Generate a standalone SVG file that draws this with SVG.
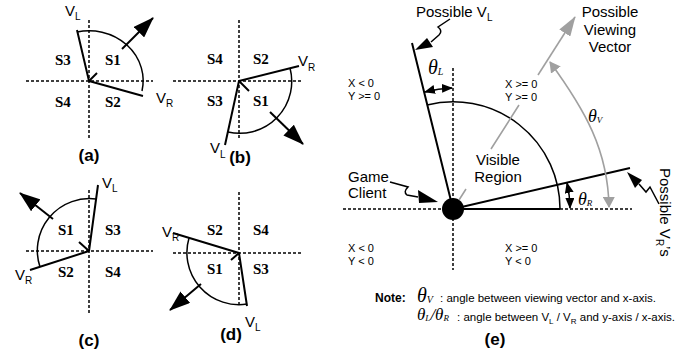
<svg xmlns="http://www.w3.org/2000/svg" width="699" height="356" viewBox="0 0 699 356">
<style>
.ax{stroke:#000;stroke-width:1.5;stroke-dasharray:3 2;fill:none}
.v{stroke:#000;stroke-width:2;fill:none}
.arc{stroke:#000;stroke-width:1.5;fill:none}
.g{stroke:#a0a0a0;stroke-width:1.6;fill:none}
.s{font-family:"Liberation Serif",serif;font-weight:bold;font-size:15px}
.lbl{font-family:"Liberation Sans",Arial,sans-serif;font-size:15px}
.sm{font-family:"Liberation Sans",Arial,sans-serif;font-size:11px}
.nt{font-family:"Liberation Sans",Arial,sans-serif;font-size:11.5px}
.cap{font-family:"Liberation Sans",Arial,sans-serif;font-weight:bold;font-size:17px;text-anchor:middle}
.th{font-family:"Liberation Serif",serif;font-style:italic}
</style>
<defs>
<marker id="ah" viewBox="0 0 21 15" refX="20" refY="7.5" markerWidth="21" markerHeight="15" markerUnits="userSpaceOnUse" orient="auto"><path d="M0,0 L21,7.5 L0,15 z" fill="#000"/></marker>
<marker id="sa" viewBox="0 0 11 9" refX="10" refY="4.5" markerWidth="11" markerHeight="9" markerUnits="userSpaceOnUse" orient="auto-start-reverse"><path d="M0,0 L11,4.5 L0,9 z" fill="#000"/></marker>
<marker id="gah" viewBox="0 0 20 13" refX="19" refY="6.5" markerWidth="20" markerHeight="13" markerUnits="userSpaceOnUse" orient="auto"><path d="M0,0 L20,6.5 L0,13 z" fill="#a0a0a0"/></marker>
<marker id="gsa" viewBox="0 0 11 12" refX="10" refY="6" markerWidth="11" markerHeight="12" markerUnits="userSpaceOnUse" orient="auto-start-reverse"><path d="M0,0 L11,6 L0,12 z" fill="#a0a0a0"/></marker>
</defs>

<g id="panel-a">
<path class="ax" d="M26,81 H153 M89,20 V140"/>
<path class="v" d="M89,81 L77,30 M89,81 L143,96"/>
<path class="arc" d="M77,32 A54,50 0 0,1 142,91"/>
<path class="v" d="M89,81 L97,73"/>
<path class="v" d="M122,49 L153,18" marker-end="url(#ah)"/>
<text class="s" x="55" y="65">S3</text><text class="s" x="105" y="65">S1</text>
<text class="s" x="55" y="107">S4</text><text class="s" x="105" y="107">S2</text>
<text class="lbl" x="65" y="16">V<tspan font-size="10" dy="4">L</tspan></text>
<text class="lbl" x="156" y="103">V<tspan font-size="10" dy="4">R</tspan></text>
<text class="cap" x="89" y="161">(a)</text>
</g>

<g id="panel-b">
<path class="ax" d="M173,81 H302 M239,20 V140"/>
<path class="v" d="M239,81 L299,66 M239,81 L225,145"/>
<path class="arc" d="M290,68 A52,52 0 0,1 228,132"/>
<path class="v" d="M239,81 L249,91"/>
<path class="v" d="M270,112 L303,144" marker-end="url(#ah)"/>
<text class="s" x="207" y="64">S4</text><text class="s" x="253" y="64">S2</text>
<text class="s" x="207" y="106">S3</text><text class="s" x="253" y="106">S1</text>
<text class="lbl" x="298" y="66">V<tspan font-size="10" dy="5">R</tspan></text>
<text class="lbl" x="210" y="153">V<tspan font-size="10" dy="5">L</tspan></text>
<text class="cap" x="240" y="163">(b)</text>
</g>

<g id="panel-c">
<path class="ax" d="M26,251 H153 M89,190 V313"/>
<path class="v" d="M89,251 L98,185 M89,251 L30,270"/>
<path class="arc" d="M96,199 A52,52 0 0,0 40,267"/>
<path class="v" d="M89,251 L79,242"/>
<path class="v" d="M53,219 L20,193" marker-end="url(#ah)"/>
<text class="s" x="58" y="235">S1</text><text class="s" x="105" y="235">S3</text>
<text class="s" x="58" y="277">S2</text><text class="s" x="105" y="277">S4</text>
<text class="lbl" x="102" y="188">V<tspan font-size="10" dy="4">L</tspan></text>
<text class="lbl" x="15" y="280">V<tspan font-size="10" dy="4">R</tspan></text>
<text class="cap" x="89" y="346">(c)</text>
</g>

<g id="panel-d">
<path class="ax" d="M173,253 H302 M239,192 V307"/>
<path class="v" d="M239,253 L173,233 M239,253 L247,306"/>
<path class="arc" d="M189,238 A52,52 0 0,0 247,304"/>
<path class="v" d="M239,253 L231,260"/>
<path class="v" d="M201,284 L170,310" marker-end="url(#ah)"/>
<text class="s" x="207" y="235">S2</text><text class="s" x="253" y="235">S4</text>
<text class="s" x="207" y="274">S1</text><text class="s" x="253" y="274">S3</text>
<text class="lbl" x="162" y="237">V<tspan font-size="10" dy="4">R</tspan></text>
<text class="lbl" x="245" y="327">V<tspan font-size="10" dy="4">L</tspan></text>
<text class="cap" x="231" y="340">(d)</text>
</g>

<g id="panel-e">
<path class="ax" d="M343,209 H442 M560,209 H632 M453,68 V270"/>
<path class="v" d="M453,209 H560"/>
<path class="v" d="M453,209 L412,43 M453,209 L630,168"/>
<path class="arc" d="M427,105 A107,107 0 0,1 560,209"/>
<circle cx="453" cy="209" r="11" fill="#000"/>
<path class="arc" d="M425,92 A121,121 0 0,1 452,88" marker-start="url(#sa)" marker-end="url(#sa)"/>
<path class="arc" d="M567,183 A117,117 0 0,1 570,208" marker-start="url(#sa)" marker-end="url(#sa)"/>
<path class="g" d="M550,62 C585,110 608,150 609,207" marker-start="url(#gsa)" marker-end="url(#gsa)"/>
<path class="g" d="M459,200 L466,189 M491,149 L519,105"/>
<path class="g" d="M538,75 L575,17" marker-end="url(#gah)"/>
<path class="arc" d="M450,19 L438,27 Q443,31 439,35 L431,42"/>
<path d="M415,50 L427,38 L433,47 z" fill="#000"/>
<path class="arc" d="M390,182 L408,187 Q403,192 407,195 L418,197"/>
<path d="M438,202 L418,190 L419,203 z" fill="#000"/>
<path class="arc" d="M659,204 L650,187 L646,192 L639,184"/>
<path d="M627,172 L642,180 L635,188 z" fill="#000"/>
<text class="lbl" x="416" y="17">Possible V<tspan font-size="10" dy="4">L</tspan></text>
<text class="th" x="428" y="74" font-size="20">θ<tspan font-size="10" dy="1">L</tspan></text>
<text class="sm" x="348" y="87">X &lt; 0</text>
<text class="sm" x="348" y="100">Y &gt;= 0</text>
<text class="sm" x="505" y="88">X &gt;= 0</text>
<text class="sm" x="505" y="101">Y &gt;= 0</text>
<text class="lbl" x="498" y="165" text-anchor="middle">Visible</text>
<text class="lbl" x="498" y="182" text-anchor="middle">Region</text>
<text class="lbl" x="348" y="182">Game</text>
<text class="lbl" x="348" y="198">Client</text>
<text class="sm" x="348" y="252">X &lt; 0</text>
<text class="sm" x="348" y="265">Y &lt; 0</text>
<text class="sm" x="505" y="252">X &gt;= 0</text>
<text class="sm" x="505" y="265">Y &lt; 0</text>
<text class="lbl" x="610" y="17" text-anchor="middle">Possible</text>
<text class="lbl" x="610" y="35" text-anchor="middle">Viewing</text>
<text class="lbl" x="610" y="52" text-anchor="middle">Vector</text>
<text class="th" x="588" y="122" font-size="18">θ<tspan font-size="9" dy="1">V</tspan></text>
<text class="th" x="578" y="205" font-size="18">θ<tspan font-size="9" dy="1">R</tspan></text>
<text class="lbl" transform="translate(660,168) rotate(90)">Possible V<tspan font-size="10" dy="4">R</tspan><tspan dy="-4">’s</tspan></text>
<text x="375" y="302" font-family="Liberation Sans, Arial, sans-serif" font-weight="bold" font-size="12">Note:</text>
<text class="th" x="417" y="302" font-size="20">θ<tspan font-size="10" dy="1">V</tspan></text>
<text class="nt" x="440" y="302">: angle between viewing vector and x-axis.</text>
<text class="th" x="417" y="320" font-size="17">θ<tspan font-size="9" dy="1">L</tspan><tspan dy="-1">/θ</tspan><tspan font-size="9" dy="1">R</tspan></text>
<text class="nt" x="457" y="321">: angle between V<tspan font-size="8" dy="3">L</tspan><tspan dy="-3"> / V</tspan><tspan font-size="8" dy="3">R</tspan><tspan dy="-3"> and y-axis / x-axis.</tspan></text>
<text class="cap" x="495" y="345">(e)</text>
</g>
</svg>
